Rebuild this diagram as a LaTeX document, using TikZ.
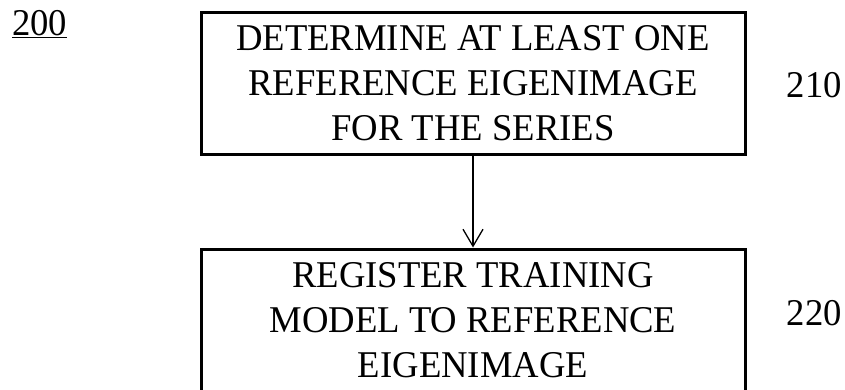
\documentclass[tikz,border=0pt]{standalone}
\usepackage{fontspec}
\setmainfont{Liberation Serif}[FakeStretch=0.97]
\usepackage{tikz}
\usetikzlibrary{arrows.meta, positioning}

\tikzset{
  stepbox/.style={draw=black, line width=3pt, minimum width=544pt, minimum height=142pt,
    align=center, font=\fontsize{37.8}{45}\selectfont},
  reflabel/.style={font=\fontsize{37.8}{42}\selectfont, inner sep=0pt}
}

\begin{document}
\begin{tikzpicture}
  \useasboundingbox (0pt,0pt) rectangle (845pt,-389pt);

  \node[reflabel, anchor=base west] (fig) at (12pt,-35pt) {\underline{200}};

  \node[stepbox] (determine) at (473pt,-83pt) {DETERMINE AT LEAST ONE\\REFERENCE EIGENIMAGE\\FOR THE SERIES};
  \node[stepbox, below=92pt of determine] (register) {REGISTER TRAINING\\MODEL TO REFERENCE\\EIGENIMAGE};

  \node[reflabel, right=40pt of determine, yshift=-2pt] (d210) {210};
  \node[reflabel, right=40pt of register, yshift=7pt] (r220) {220};

  \draw[line width=1.3pt, -{Straight Barb[length=17pt, width=20pt, line width=1.3pt]}] (determine) -- (register);
\end{tikzpicture}
\end{document}
